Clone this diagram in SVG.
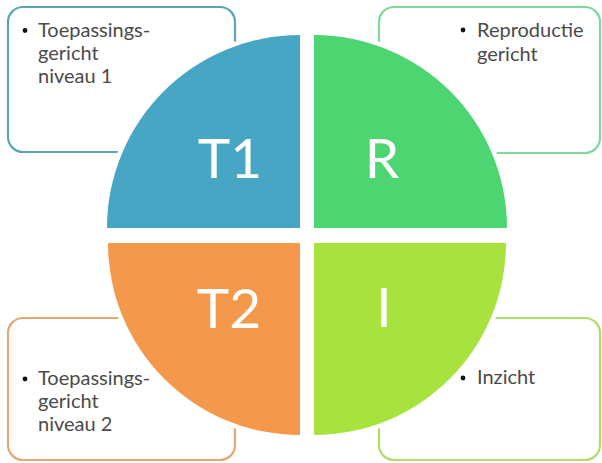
<svg xmlns="http://www.w3.org/2000/svg" width="602" height="463" viewBox="0 0 602 463">
<style>
.box{fill:#ffffff;stroke-width:2.2}
.txt{font-family:Lato,"Liberation Sans",sans-serif;font-size:20px;fill:#4a4a4a}
.bul{fill:#111}
.quad{stroke:#ffffff;stroke-width:9;paint-order:stroke}
.big{font-family:Lato,"Liberation Sans",sans-serif;font-size:55px;fill:#ffffff;text-anchor:middle}
</style>
<rect width="602" height="463" fill="#ffffff"/>
<g id="box-t1">
<rect class="box" x="8" y="7" width="227" height="145" rx="15" stroke="#5aa6b6"/>
<circle class="bul" cx="25" cy="30.5" r="2.4"/>
<text class="txt" x="38" y="37">Toepassings-</text>
<text class="txt" x="38" y="60">gericht</text>
<text class="txt" x="38" y="83">niveau 1</text>
</g>
<g id="box-r">
<rect class="box" x="379" y="7" width="221" height="146" rx="15" stroke="#7ed99a"/>
<circle class="bul" cx="463" cy="30" r="2.4"/>
<text class="txt" x="477" y="37">Reproductie</text>
<text class="txt" x="477" y="61">gericht</text>
</g>
<g id="box-t2">
<rect class="box" x="8" y="318" width="227" height="142" rx="15" stroke="#e6a672"/>
<circle class="bul" cx="25" cy="379" r="2.4"/>
<text class="txt" x="38" y="385">Toepassings-</text>
<text class="txt" x="38" y="408">gericht</text>
<text class="txt" x="38" y="431">niveau 2</text>
</g>
<g id="box-i">
<rect class="box" x="379" y="318" width="221" height="142" rx="15" stroke="#b0dc6a"/>
<circle class="bul" cx="463" cy="378" r="2.4"/>
<text class="txt" x="477" y="384">Inzicht</text>
</g>
<g id="quad-t1">
<path class="quad" d="M300,228 L107,228 A193,193 0 0 1 300,35 Z" fill="#46a6c3"/>
<text class="big" x="230" y="178">T1</text>
</g>
<g id="quad-r">
<path class="quad" d="M314,228 L314,35 A193,193 0 0 1 507,228 Z" fill="#4cd571"/>
<text class="big" x="382" y="178">R</text>
</g>
<g id="quad-t2">
<path class="quad" d="M300,243 L300,435 A192,192 0 0 1 108,243 Z" fill="#f4984b"/>
<text class="big" x="229" y="328">T2</text>
</g>
<g id="quad-i">
<path class="quad" d="M314,243 L506,243 A192,192 0 0 1 314,435 Z" fill="#a8e23f"/>
<text class="big" x="384" y="327">I</text>
</g>
<g id="connectors"></g>
</svg>
